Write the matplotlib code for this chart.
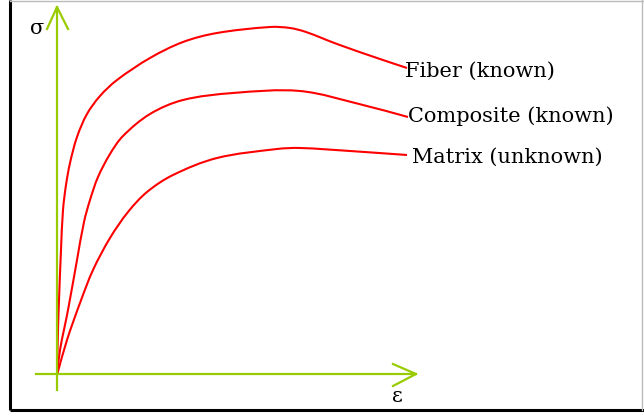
"""Stress-strain sketch: fiber, composite and matrix curves."""
import matplotlib
matplotlib.use("Agg")
import matplotlib.pyplot as plt
import numpy as np
from matplotlib.path import Path
from matplotlib.patches import PathPatch

# curve coordinates (pixel space, y grows downward)
fiber_x = [57, 58, 59, 61, 63, 66, 70, 77, 87, 100, 117, 150, 183, 217, 270, 290, 306, 337, 377, 407]
fiber_y = [375, 330, 300, 250, 210, 185, 163, 137, 114, 96, 80, 58, 42, 33, 27, 28, 32, 44, 58, 68]

comp_x = [57, 60, 68, 77, 84, 90, 98, 110, 123, 150, 183, 233, 300, 363, 408]
comp_y = [375, 350, 310, 260, 222, 200, 177, 154, 136, 114, 100, 93, 91, 105, 117]

matrix_x = [57, 67, 80, 93, 110, 128, 147, 173, 217, 277, 300, 350, 407]
matrix_y = [375, 340, 303, 270, 238, 212, 192, 175, 158, 149, 148, 151, 155]

labels = ["Fiber (known)", "Composite (known)", "Matrix (unknown)"]
label_pos = [(405, 71), (408, 116), (412, 157)]

GREEN = "#99cc00"
RED = "#ff0000"
FONT = "DejaVu Serif"


def smooth_path(xs, ys):
    """Bezier through the points, tangents scaled by chord length."""
    pts = np.column_stack([xs, ys]).astype(float)
    n = len(pts)
    tang = np.zeros_like(pts)
    for i in range(n):
        a = pts[max(i - 1, 0)]
        b = pts[min(i + 1, n - 1)]
        d = b - a
        tang[i] = d / np.hypot(*d)
    verts = [tuple(pts[0])]
    codes = [Path.MOVETO]
    for i in range(n - 1):
        seg = np.hypot(*(pts[i + 1] - pts[i])) / 3
        verts += [tuple(pts[i] + tang[i] * seg),
                  tuple(pts[i + 1] - tang[i + 1] * seg),
                  tuple(pts[i + 1])]
        codes += [Path.CURVE4] * 3
    return Path(verts, codes)


fig = plt.figure(figsize=(6.44, 4.16), dpi=100)
ax = fig.add_axes([0, 0, 1, 1])
ax.set_xlim(0, 644)
ax.set_ylim(416, 0)
ax.axis("off")

# frame
ax.plot([10, 10], [0, 410], color="black", lw=2.2, solid_capstyle="butt")
ax.plot([10, 644], [410, 410], color="black", lw=2.2, solid_capstyle="butt")
ax.plot([10, 644], [0.5, 0.5], color="#bbbbbb", lw=1)
ax.plot([642, 642], [0, 410], color="#bbbbbb", lw=1)

# axes with arrow heads
ax.plot([57, 57], [390, 7], color=GREEN, lw=1.6)
ax.plot([47, 57, 68], [29, 7, 29], color=GREEN, lw=1.6)
ax.plot([36, 416], [374, 374], color=GREEN, lw=1.6)
ax.plot([393, 416, 393], [364, 374, 386], color=GREEN, lw=1.6)

for xs, ys in [(fiber_x, fiber_y), (comp_x, comp_y), (matrix_x, matrix_y)]:
    ax.add_patch(PathPatch(smooth_path(xs, ys), facecolor="none",
                           edgecolor=RED, lw=1.5))

for text, (x, y) in zip(labels, label_pos):
    ax.text(x, y, text, fontsize=15, family=FONT, ha="left", va="center")

ax.text(37, 29, "σ", fontsize=15, family=FONT, ha="center", va="center")
ax.text(397, 396, "ε", fontsize=15, family=FONT, ha="center", va="center")

fig.savefig("out.png", dpi=100)
